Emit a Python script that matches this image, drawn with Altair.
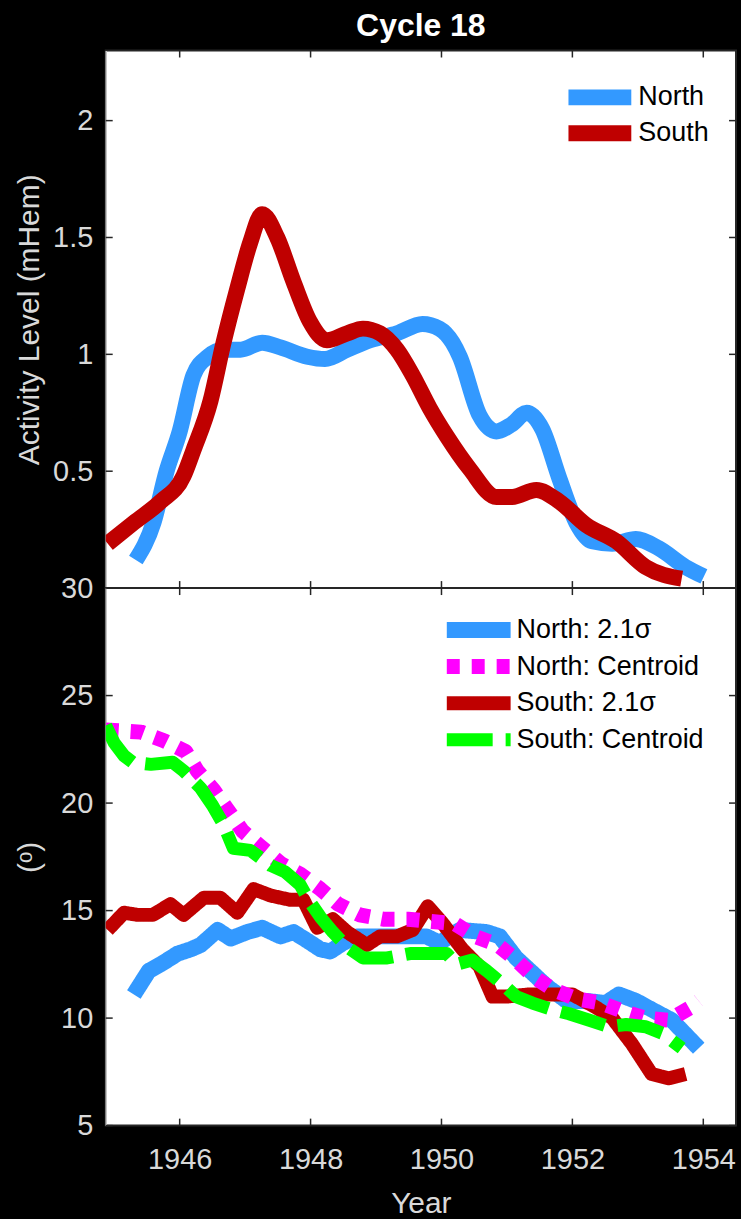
import altair as alt
import pandas as pd

# ---------------- Activity level (mHem), smoothed ----------------
act_north_year = [1945.33, 1945.60, 1945.80, 1946.00, 1946.21, 1946.43, 1946.67, 1946.93,
                  1947.26, 1947.54, 1947.95, 1948.22, 1948.56, 1948.91, 1949.32, 1949.71,
                  1949.97, 1950.17, 1950.28, 1950.58, 1950.84, 1951.07, 1951.30, 1951.54,
                  1951.80, 1952.06, 1952.30, 1952.61, 1952.97, 1953.32, 1953.73, 1954.01]
act_north = [0.12, 0.28, 0.50, 0.67, 0.91, 0.99, 1.02, 1.02,
             1.05, 1.03, 0.99, 0.98, 1.02, 1.06, 1.09, 1.13,
             1.11, 1.05, 0.99, 0.74, 0.67, 0.70, 0.75, 0.68,
             0.47, 0.28, 0.20, 0.19, 0.21, 0.17, 0.09, 0.05]

act_south_year = [1944.90, 1945.30, 1945.71, 1946.06, 1946.21, 1946.47, 1946.67, 1946.88,
                  1947.08, 1947.26, 1947.49, 1947.74, 1947.99, 1948.25, 1948.56, 1948.80,
                  1949.06, 1949.32, 1949.56, 1949.82, 1950.08, 1950.43, 1950.84, 1951.08,
                  1951.45, 1951.80, 1952.21, 1952.67, 1953.12, 1953.67]
act_south = [0.19, 0.28, 0.37, 0.48, 0.59, 0.80, 1.05, 1.28,
             1.48, 1.60, 1.50, 1.31, 1.14, 1.06, 1.09, 1.11,
             1.09, 1.02, 0.91, 0.77, 0.65, 0.51, 0.39, 0.39,
             0.42, 0.37, 0.27, 0.20, 0.09, 0.04]

# ---------------- Latitude (degrees) ----------------
lat_n_sig_year = [1945.30, 1945.53, 1945.71, 1945.97, 1946.17, 1946.32, 1946.58, 1946.78,
                  1947.03, 1947.26, 1947.54, 1947.74, 1947.95, 1948.15, 1948.30, 1948.50,
                  1948.71, 1948.95, 1949.21, 1949.52, 1949.77, 1949.97, 1950.28, 1950.69,
                  1950.89, 1951.14, 1951.39, 1951.60, 1951.91, 1952.21, 1952.51, 1952.71,
                  1952.97, 1953.21, 1953.52, 1953.93]
lat_n_sig = [11.1, 12.2, 12.5, 13.0, 13.2, 13.4, 14.1, 13.7,
             14.0, 14.2, 13.8, 14.0, 13.6, 13.2, 13.1, 13.5,
             13.8, 13.8, 13.8, 13.8, 13.8, 13.5, 14.1, 14.0,
             13.8, 12.8, 12.1, 11.5, 10.8, 10.8, 10.7, 11.1,
             10.8, 10.4, 9.9, 8.6]

lat_n_cen_year = [1944.87, 1945.41, 1945.76, 1946.09, 1946.27, 1946.52, 1946.73, 1946.96,
                  1947.23, 1947.54, 1947.84, 1948.15, 1948.42, 1948.75, 1949.11, 1949.49,
                  1949.82, 1950.20, 1950.51, 1950.86, 1951.14, 1951.42, 1951.72, 1952.06,
                  1952.44, 1952.79, 1953.11, 1953.47, 1953.81, 1953.93]
lat_n_cen = [23.4, 23.3, 22.9, 22.4, 21.5, 20.6, 19.7, 18.7,
             18.0, 17.2, 16.7, 16.0, 15.3, 14.8, 14.6, 14.6,
             14.5, 14.4, 13.8, 13.4, 12.7, 11.9, 11.3, 10.9,
             10.7, 10.3, 10.0, 9.9, 10.5, 10.8]

lat_s_sig_year = [1944.90, 1945.15, 1945.36, 1945.59, 1945.86, 1946.06, 1946.37, 1946.62,
                  1946.88, 1947.13, 1947.39, 1947.69, 1947.89, 1948.10, 1948.34, 1948.56,
                  1948.86, 1949.06, 1949.32, 1949.56, 1949.79, 1950.02, 1950.32, 1950.58,
                  1950.78, 1950.99, 1951.34, 1951.69, 1952.00, 1952.36, 1952.61, 1952.91,
                  1953.21, 1953.47, 1953.73]
lat_s_sig = [14.1, 14.9, 14.8, 14.8, 15.3, 14.8, 15.6, 15.6,
             14.9, 16.0, 15.7, 15.5, 15.5, 14.2, 14.6, 14.0,
             13.4, 13.8, 13.8, 14.1, 15.2, 14.4, 13.2, 12.4,
             11.0, 11.0, 11.1, 11.1, 11.1, 10.5, 10.0, 8.8,
             7.4, 7.2, 7.4]

lat_s_cen_year = [1944.87, 1945.00, 1945.15, 1945.28, 1945.56, 1945.89, 1946.06, 1946.32,
                  1946.50, 1946.67, 1946.82, 1947.08, 1947.39, 1947.61, 1947.84, 1947.99,
                  1948.15, 1948.34, 1948.56, 1948.80, 1949.17, 1949.52, 1949.82, 1950.08,
                  1950.23, 1950.47, 1950.69, 1950.93, 1951.14, 1951.39, 1951.69, 1951.95,
                  1952.26, 1952.56, 1952.82, 1953.12, 1953.37, 1953.67]
lat_s_cen = [23.6, 22.8, 22.2, 21.9, 21.8, 21.9, 21.5, 20.7,
             19.9, 19.0, 17.9, 17.8, 17.1, 16.8, 16.2, 15.4,
             14.7, 14.0, 13.3, 12.8, 12.8, 13.0, 13.0, 13.0,
             12.5, 12.7, 12.2, 11.6, 11.0, 10.7, 10.4, 10.2,
             9.9, 9.6, 9.7, 9.6, 9.3, 8.6]

# ---------------- Axis ticks ----------------
year_ticks = [1946, 1948, 1950, 1952, 1954]
act_ticks = [0.5, 1, 1.5, 2]
lat_ticks = [5, 10, 15, 20, 25, 30]

act_names = ["North", "South"]
lat_names = ["North: 2.1σ", "North: Centroid", "South: 2.1σ", "South: Centroid"]

BLUE, RED, MAGENTA, GREEN = "#3399ff", "#bf0000", "#ff00ff", "#00ff00"
LABEL = "#d9d9d9"
EDGE = "#262626"
FONT = "Liberation Sans"

W, H = 632, 539
TICK = 7

x_scale = alt.Scale(domain=[1944.87, 1954.5], nice=False, zero=False)
act_scale = alt.Scale(domain=[0, 2.3], nice=False, zero=False)
lat_scale = alt.Scale(domain=[5, 30], nice=False, zero=False)

act_color = alt.Color("series:N", scale=alt.Scale(domain=act_names, range=[BLUE, RED]),
                      legend=None)
lat_color = alt.Color("series:N",
                      scale=alt.Scale(domain=lat_names, range=[BLUE, MAGENTA, RED, GREEN]),
                      legend=None)
lat_dash = alt.StrokeDash("series:N",
                          scale=alt.Scale(domain=lat_names,
                                          range=[[1, 0], [13, 12], [1, 0], [46, 13]]),
                          legend=None)
lat_width = alt.StrokeWidth("series:N",
                            scale=alt.Scale(domain=lat_names, range=[16, 13, 16, 12]),
                            legend=None)


def frame(yrs, vals, name):
    return pd.DataFrame({"year": yrs, "value": vals, "series": name})


def y_axis(values, fmt, title):
    return alt.Axis(values=values, format=fmt, title=title, ticks=False, grid=False,
                    domainColor="#c8c8c8", domainWidth=1.5, labelColor=LABEL,
                    labelFontSize=29, labelFont=FONT, labelPadding=13, labelFlush=False,
                    titleColor=LABEL, titleFontSize=30, titleFont=FONT,
                    titleFontWeight="normal", titleX=-67, titleY=H / 2,
                    titleAngle=270, titleBaseline="alphabetic", titleAlign="center")


def inner_ticks(y_vals, y_scale):
    """Inward-pointing ticks on all four sides of the plot box."""
    xt = pd.DataFrame({"year": year_ticks})
    yt = pd.DataFrame({"value": y_vals})
    x_enc = alt.X("year:Q", scale=x_scale)
    y_enc = alt.Y("value:Q", scale=y_scale)
    rule = dict(color=EDGE, strokeWidth=1.5)
    return [
        alt.Chart(xt).mark_rule(**rule).encode(x=x_enc, y=alt.value(H), y2=alt.value(H - TICK)),
        alt.Chart(xt).mark_rule(**rule).encode(x=x_enc, y=alt.value(0), y2=alt.value(TICK)),
        alt.Chart(yt).mark_rule(**rule).encode(y=y_enc, x=alt.value(0), x2=alt.value(TICK)),
        alt.Chart(yt).mark_rule(**rule).encode(y=y_enc, x=alt.value(W), x2=alt.value(W - TICK)),
    ]


def legend(names, x0, x1, x_text, y0, dy, styles):
    """Line-sample legend drawn inside the plot area (top-right corner)."""
    layers = []
    for i, name in enumerate(names):
        d = pd.DataFrame({"series": [name]})
        y = alt.value(y0 + i * dy)
        layers.append(alt.Chart(d).mark_rule(strokeCap="butt")
                      .encode(x=alt.value(x0), x2=alt.value(x1), y=y, **styles))
        layers.append(alt.Chart(d).mark_text(align="left", baseline="middle", fontSize=27,
                                             font=FONT, color="black")
                      .encode(x=alt.value(x_text), y=y, text="series:N"))
    return layers


# ---------------- Top panel: activity level ----------------
top_x_axis = alt.Axis(labels=False, ticks=False, grid=False, title=None,
                      domainColor=EDGE, domainWidth=2)

top_lines = []
for yrs, vals, name in [(act_north_year, act_north, "North"),
                        (act_south_year, act_south, "South")]:
    top_lines.append(
        alt.Chart(frame(yrs, vals, name))
        .mark_line(strokeWidth=16, interpolate="monotone", clip=True,
                   strokeCap="butt", strokeJoin="round")
        .encode(x=alt.X("year:Q", scale=x_scale, axis=top_x_axis),
                y=alt.Y("value:Q", scale=act_scale,
                        axis=y_axis(act_ticks, "~g", "Activity Level (mHem)")),
                color=act_color)
    )

top_legend = legend(act_names, 464, 527, 534, 47, 36,
                    dict(color=act_color, strokeWidth=alt.value(16)))

top = alt.layer(*top_lines, *inner_ticks(act_ticks, act_scale), *top_legend).properties(
    width=W, height=H)

# ---------------- Bottom panel: latitude ----------------
bot_x_axis = alt.Axis(values=year_ticks, format="d", ticks=False, grid=False, domain=False,
                      labelColor=LABEL, labelFontSize=29, labelFont=FONT, labelPadding=20,
                      labelFlush=False, title="Year", titleColor=LABEL, titleFontSize=30,
                      titleFont=FONT, titleFontWeight="normal", titleY=87,
                      titleBaseline="alphabetic")

bot_lines = []
# drawing order: North 2.1σ, South 2.1σ, North centroid, South centroid
for yrs, vals, name in [(lat_n_sig_year, lat_n_sig, lat_names[0]),
                        (lat_s_sig_year, lat_s_sig, lat_names[2]),
                        (lat_n_cen_year, lat_n_cen, lat_names[1]),
                        (lat_s_cen_year, lat_s_cen, lat_names[3])]:
    bot_lines.append(
        alt.Chart(frame(yrs, vals, name))
        .mark_line(clip=True, strokeCap="butt", strokeJoin="round")
        .encode(x=alt.X("year:Q", scale=x_scale, axis=bot_x_axis),
                y=alt.Y("value:Q", scale=lat_scale, axis=y_axis(lat_ticks, "d", "(ᵒ)")),
                color=lat_color, strokeDash=lat_dash, strokeWidth=lat_width)
    )

bot_legend = legend(lat_names, 342, 406, 412, 42, 36.7,
                    dict(color=lat_color, strokeDash=lat_dash, strokeWidth=lat_width))

bottom = alt.layer(*bot_lines, *inner_ticks(lat_ticks, lat_scale), *bot_legend).properties(
    width=W, height=H)

chart = (
    alt.vconcat(top, bottom, spacing=0, bounds="flush")
    .resolve_scale(color="independent", strokeDash="independent", strokeWidth="independent")
    .properties(
        title=alt.TitleParams(text="Cycle 18", color="white", fontSize=32, fontWeight="bold",
                              font=FONT, anchor="middle", frame="group", offset=-19,
                              baseline="alphabetic"),
        background="black",
        padding={"left": 13, "top": 8, "right": 3, "bottom": 0},
    )
    .configure_view(stroke=EDGE, strokeWidth=2, fill="white")
)

chart.save("out.html", embed_options={"renderer": "svg", "actions": False})
